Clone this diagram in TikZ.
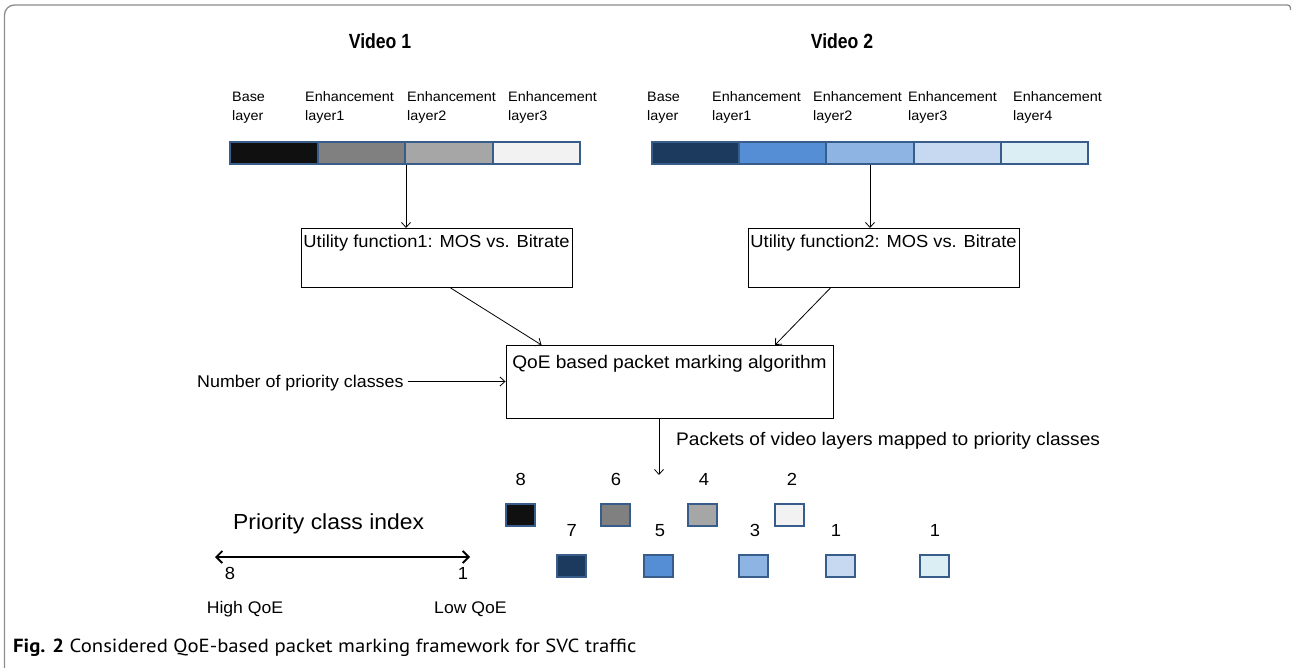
\documentclass[tikz,border=0pt]{standalone}
\usepackage{fontspec}
\setmainfont{Liberation Sans}
\newfontfamily\dgfont[FakeStretch=1.05]{Liberation Sans}
\newfontfamily\ttlfont[FakeStretch=0.86]{Liberation Sans}
\newfontfamily\capfont[FakeStretch=1.09]{PT Sans}
\usetikzlibrary{arrows.meta}
\newcommand\fsz[2]{\fontsize{#1}{#2}\selectfont}
\definecolor{segblue}{HTML}{385D8A}
\definecolor{c11}{HTML}{101010}
\definecolor{c12}{HTML}{808080}
\definecolor{c13}{HTML}{A6A6A6}
\definecolor{c14}{HTML}{F2F2F2}
\definecolor{c21}{HTML}{1C3A5E}
\definecolor{c22}{HTML}{558ED5}
\definecolor{c23}{HTML}{8EB4E3}
\definecolor{c24}{HTML}{C6D9F1}
\definecolor{c25}{HTML}{DBEEF4}
\definecolor{framegray}{HTML}{8C8C8C}
\tikzset{
  seg/.style={draw=segblue, line width=2pt, minimum height=22pt, inner sep=0pt, anchor=north west},
  sq/.style={draw=segblue, line width=2pt, minimum width=29pt, minimum height=22pt, inner sep=0pt},
  lbl/.style={anchor=north west, align=left, inner sep=0pt, font=\dgfont\fsz{13.7}{19}},
  ttl/.style={anchor=base, inner sep=0pt, font=\ttlfont\bfseries\fsz{20.5}{22}},
  num/.style={anchor=base, inner sep=0pt, font=\dgfont\fsz{17.5}{18}},
  plain/.style={anchor=base west, inner sep=0pt},
  box/.style={draw, line width=0.9pt, inner xsep=0pt, inner ysep=0pt, anchor=north},
  conn/.style={line width=0.8pt, -{Straight Barb[length=5pt,width=9pt]}},
  frame/.style={draw=framegray, line width=1.3pt},
}
\begin{document}
\begin{tikzpicture}[x=1pt,y=-1pt]
\useasboundingbox (0,0) rectangle (1292,668);
% frame
\draw[frame] (4.5,668) [rounded corners=10pt]-- (4.5,5) [rounded corners=3pt]-- (1290.5,5) -- (1290.5,10);

% titles
\node[ttl] (t1) at (380,49) {Video 1};
\node[ttl] (t2) at (842,49) {Video 2};

% labels video 1
\node[lbl] (l11) at (232,91.5) {Base\\layer};
\node[lbl] (l12) at (305,91.5) {Enhancement\\layer1};
\node[lbl] (l13) at (407,91.5) {Enhancement\\layer2};
\node[lbl] (l14) at (508,91.5) {Enhancement\\layer3};
% labels video 2
\node[lbl] (l21) at (647,91.5) {Base\\layer};
\node[lbl] (l22) at (712,91.5) {Enhancement\\layer1};
\node[lbl] (l23) at (813,91.5) {Enhancement\\layer2};
\node[lbl] (l24) at (908,91.5) {Enhancement\\layer3};
\node[lbl] (l25) at (1013,91.5) {Enhancement\\layer4};

% bar 1
\node[seg, fill=c11, minimum width=87.5pt] (s11) at (229,141) {};
\node[seg, fill=c12, minimum width=87.5pt] (s12) at (316.5,141) {};
\node[seg, fill=c13, minimum width=87.5pt] (s13) at (404,141) {};
\node[seg, fill=c14, minimum width=87.5pt] (s14) at (491.5,141) {};
% bar 2
\node[seg, fill=c21, minimum width=87.2pt] (s21) at (651,141) {};
\node[seg, fill=c22, minimum width=87.2pt] (s22) at (738.2,141) {};
\node[seg, fill=c23, minimum width=87.2pt] (s23) at (825.4,141) {};
\node[seg, fill=c24, minimum width=87.2pt] (s24) at (912.6,141) {};
\node[seg, fill=c25, minimum width=87.2pt] (s25) at (999.8,141) {};

% utility boxes
\node[box, minimum width=271pt, text height=19pt, text depth=40pt, font=\dgfont\fsz{17.45}{18}] (u1) at (436.5,228) {Utility function1: MOS vs. Bitrate};
\node[box, minimum width=271pt, text height=19pt, text depth=40pt, font=\dgfont\fsz{17.45}{18}] (u2) at (883.5,228) {Utility function2: MOS vs. Bitrate};

% algorithm box
\node[box, minimum width=327pt, text height=23pt, text depth=50pt, font=\dgfont\fsz{18.2}{20}] (alg) at (669.5,345) {QoE based packet marking algorithm};

% arrows bars -> boxes
\draw[conn] (s12.south east) -- (s12.south east |- u1.north);
\draw[conn] (s23.south) -- (s23.south |- u2.north);
% boxes -> algorithm
\draw[conn] ([xshift=14pt]u1.south) -- ([xshift=-128pt]alg.north);
\draw[conn] ([xshift=-53pt]u2.south) -- ([xshift=105.5pt]alg.north);

% number of priority classes
\node[plain, font=\dgfont\fsz{17}{18}] (npc) at (197,387) {Number of priority classes};
\draw[conn] ([xshift=4pt]npc.east |- 0,381.5) -- (alg.west |- 0,381.5);

% packets arrow
\coordinate (pk) at (659,475);
\draw[conn] ([xshift=-10.5pt]alg.south) -- (pk);
\node[plain, font=\dgfont\fsz{18.2}{20}] (pkt) at (676,445.5) {Packets of video layers mapped to priority classes};

% squares row 1
\node[sq, fill=c11] (q8) at (520.8,515.3) {};
\node[sq, fill=c12] (q6) at (615.3,515.3) {};
\node[sq, fill=c13] (q4) at (702.2,515.3) {};
\node[sq, fill=c14] (q2) at (789.5,515.3) {};
% squares row 2
\node[sq, fill=c21] (q7) at (571.5,566) {};
\node[sq, fill=c22] (q5) at (658.5,566) {};
\node[sq, fill=c23] (q3) at (753.5,566) {};
\node[sq, fill=c24] (q1a) at (840.5,566) {};
\node[sq, fill=c25] (q1b) at (934.5,566) {};

% numbers
\node[num] (n8) at (520.7,485) {8};
\node[num] (n6) at (616,485) {6};
\node[num] (n4) at (704,485) {4};
\node[num] (n2) at (792,485) {2};
\node[num] (n7) at (571.7,536) {7};
\node[num] (n5) at (660,536) {5};
\node[num] (n3) at (755,536) {3};
\node[num] (n1a) at (836,536) {1};
\node[num] (n1b) at (935,536) {1};

% priority class index
\node[plain, font=\dgfont\fsz{21.8}{24}] (pci) at (233,529) {Priority class index};
\coordinate (dl) at (215,557);
\coordinate (dr) at (470,557);
\draw[line width=1.8pt, {Straight Barb[length=6pt,width=12pt]}-{Straight Barb[length=6pt,width=12pt]}] (dl) -- (dr);
\node[num] (i8) at (230,579) {8};
\node[num] (i1) at (463,579) {1};
\node[anchor=base, inner sep=0pt, font=\dgfont\fsz{16.8}{18}] (hq) at (245,613) {High QoE};
\node[anchor=base, inner sep=0pt, font=\dgfont\fsz{16.8}{18}] (lq) at (470.5,613) {Low QoE};

% caption
\node[plain, font=\capfont\fsz{19}{22}] (cap) at (13,652) {\textbf{Fig. 2} Considered QoE-based packet marking framework for SVC traffic};
\end{tikzpicture}
\end{document}
